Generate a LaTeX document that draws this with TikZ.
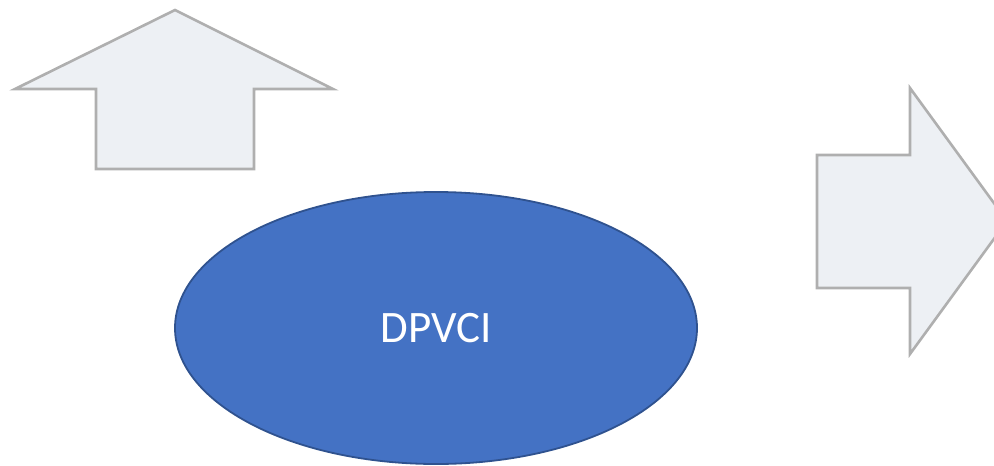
\documentclass[tikz,border=0pt]{standalone}
\usepackage{fontspec}
\setmainfont{Carlito}
\usetikzlibrary{shapes.geometric}
\definecolor{arrowfill}{HTML}{EDF0F4}
\definecolor{arrowline}{HTML}{AFAFAF}
\definecolor{ovalfill}{HTML}{4472C4}
\definecolor{ovalline}{HTML}{2F528F}
\begin{document}
\begin{tikzpicture}[x=1pt, y=-1pt,
	blockarrow/.style={draw=arrowline, fill=arrowfill, line width=2.6pt, line join=miter},
	oval/.style={draw=ovalline, fill=ovalfill, line width=1.8pt, ellipse, inner sep=0pt, text=white, font=\fontsize{45}{54}\selectfont}]
				\useasboundingbox (0,0) rectangle (994,466);
				\clip (0,0) rectangle (994,466);
				\draw[blockarrow] (175,10) -- (333,89) -- (254,89) -- (254,169) -- (96,169) -- (96,89) -- (15,89) -- cycle;
				\draw[blockarrow] (817,155) -- (910,155) -- (910,88) -- (1007,221) -- (910,354) -- (910,288) -- (817,288) -- cycle;
				\node[oval, minimum width=522pt, minimum height=272pt] (DPVCI)at(436, 328) {DPVCI};
			\end{tikzpicture}
\end{document}
